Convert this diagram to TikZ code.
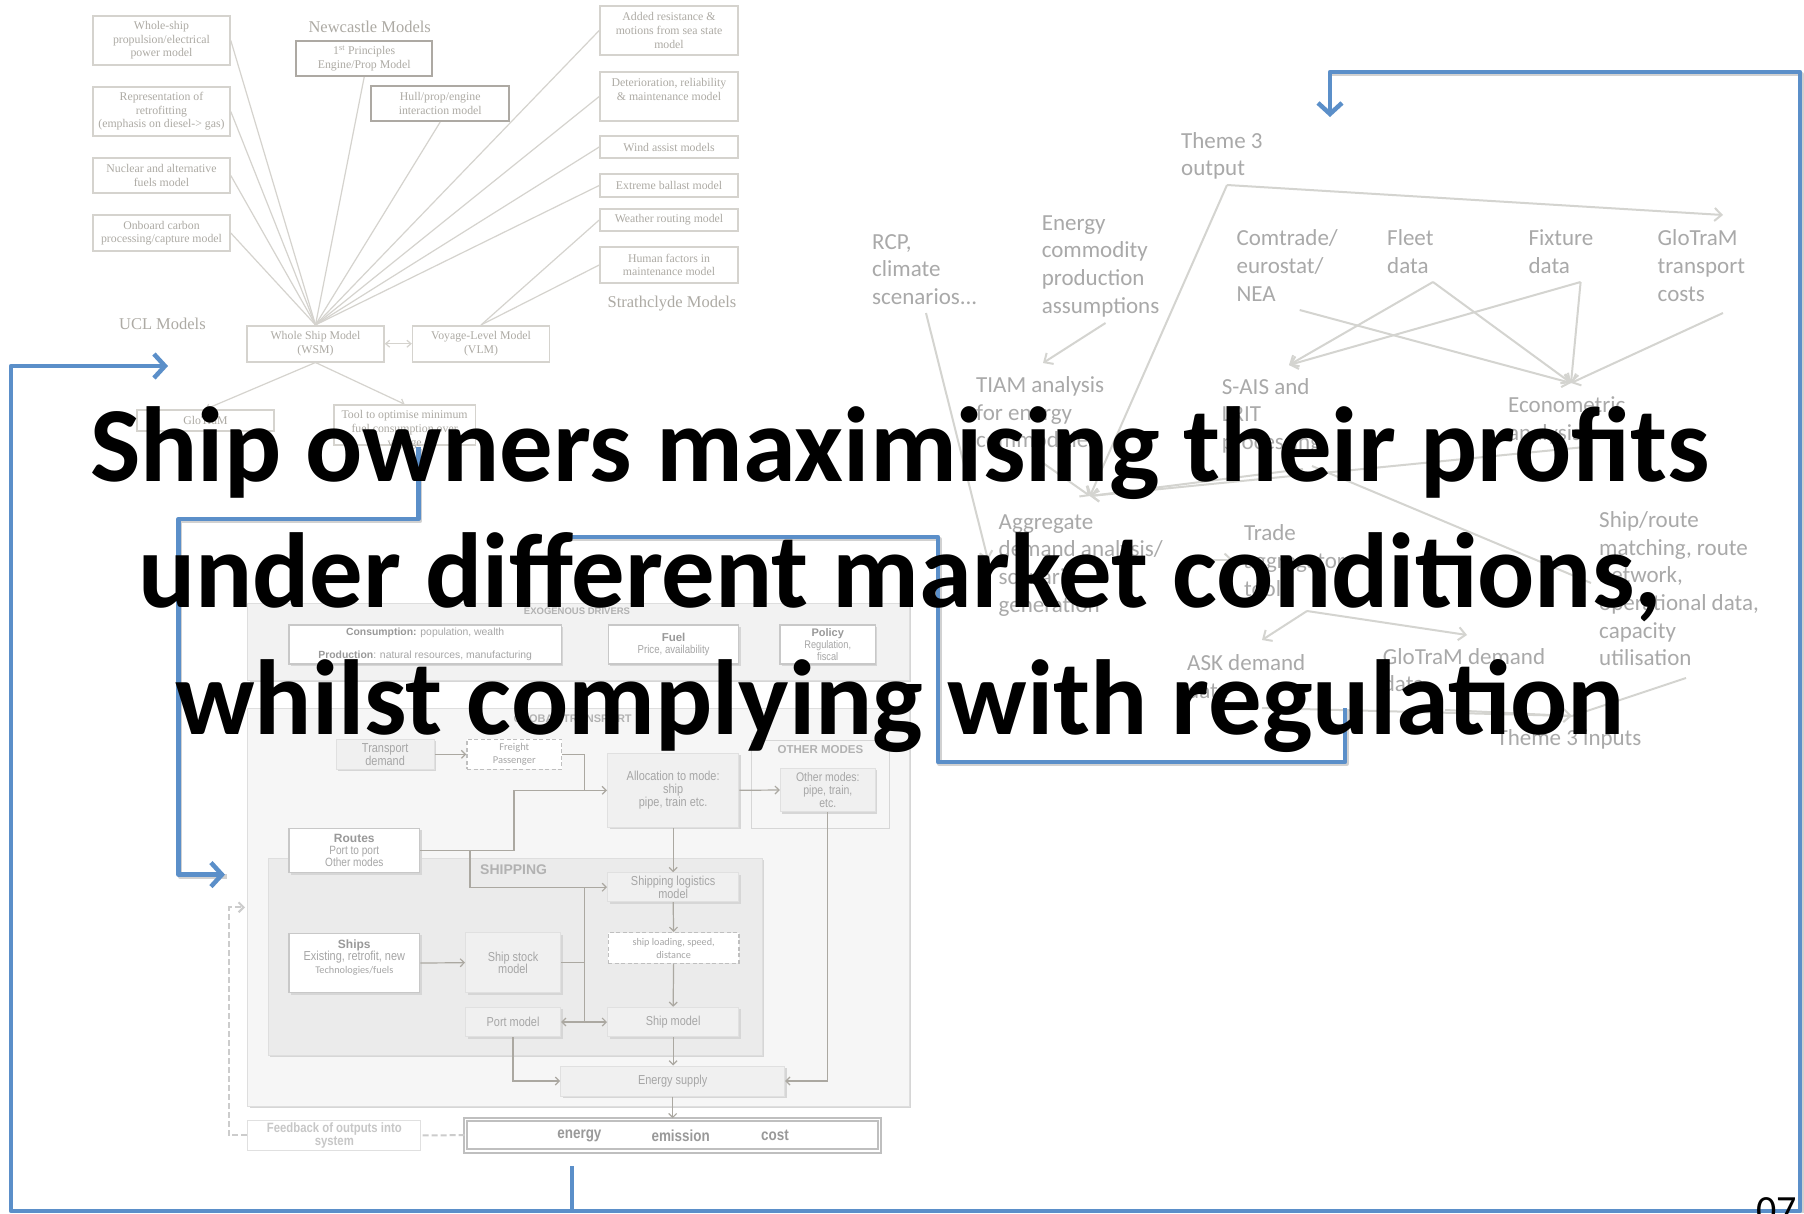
\documentclass[tikz,border=0pt]{standalone}
\usepackage{fontspec}
\setmainfont{Carlito}
\newfontfamily\serfont{Liberation Serif}
\newfontfamily\arialfont{Liberation Sans}
\newfontfamily\narrowfont[FakeStretch=0.84]{Liberation Sans}
\usetikzlibrary{arrows.meta,shadows}
\definecolor{ucltxt}{HTML}{ADAAA4}
\definecolor{uclline}{HTML}{D5D3CE}
\definecolor{ncline}{HTML}{ADA9A3}
\definecolor{trtxt}{HTML}{A9A9A9}
\definecolor{trline}{HTML}{D4D4D0}
\definecolor{bluec}{HTML}{5B8FC9}
\definecolor{btxt}{HTML}{A6A6A6}
\definecolor{bbold}{HTML}{999999}
\definecolor{bline}{HTML}{ABA8A1}
\definecolor{bborder}{HTML}{C8C8C8}
\tikzset{
  uclbox/.style={draw=uclline, line width=1.6pt, fill=white, inner sep=1pt, align=center, text=ucltxt, font=\serfont\fontsize{11.8}{13.6}\selectfont},
  ncbox/.style={uclbox, draw=ncline, line width=2pt},
  ucltitle/.style={text=ucltxt, inner sep=0pt, font=\serfont\fontsize{16.5}{19}\selectfont},
  uclconn/.style={draw=uclline, line width=1.2pt},
  ucltip/.style={uclconn, -{Straight Barb[length=4pt,width=7pt]}},
  uclboth/.style={uclconn, {Straight Barb[length=4pt,width=7pt]}-{Straight Barb[length=4pt,width=7pt]}},
  trlab/.style={text=trtxt, inner sep=0pt, anchor=base west, align=left, font=\fontsize{23}{27.7}\selectfont},
  trarrow/.style={draw=trline, line width=2pt, -{Straight Barb[length=7pt,width=13pt]}},
  trline/.style={draw=trline, line width=2pt},
  panel/.style={draw=black!13, line width=1pt, inner sep=0pt},
  shad/.style={drop shadow={shadow xshift=2pt, shadow yshift=-2pt, fill=black!16, opacity=1}},
  wbox/.style={draw=bborder, line width=1.3pt, fill=white, shad, inner sep=1pt, align=center, text=btxt, font=\narrowfont\fontsize{12}{12.4}\selectfont},
  gbox/.style={draw=black!12, line width=1pt, fill=black!6, shad, inner sep=1pt, align=center, text=btxt, font=\narrowfont\fontsize{13}{13.2}\selectfont},
  dbox/.style={draw=black!25, dashed, dash pattern=on 4pt off 2.5pt, line width=1.5pt, fill=white, inner sep=1pt, align=center, text=btxt, font=\fontsize{10.5}{12.8}\selectfont},
  plabel/.style={text=black!30, inner sep=0pt, font=\arialfont\bfseries\fontsize{#1}{#1}\selectfont},
  barrow/.style={draw=bline, line width=1.2pt, -{Straight Barb[length=4pt,width=8pt]}},
  bline/.style={draw=bline, line width=1.2pt},
  bdash/.style={draw=black!20, line width=2pt, dash pattern=on 6pt off 3pt},
  blueln/.style={draw=bluec, line width=4.5pt, line join=round},
  bluesh/.style={draw=black!18, line width=4.5pt, line join=round, transform canvas={shift={(1.5pt,-2pt)}}},
  bluetip/.style={-{Straight Barb[length=11pt,width=24pt]}},
}
\begin{document}
\begin{tikzpicture}[x=1pt,y=-1pt]
\useasboundingbox (0,0) rectangle (1804,1213);
\fill[white] (0,0) rectangle (1804,1213);

% ================= top-left: model collection =================
\node[ucltitle] (ncl) at (369.7,26.7) {Newcastle Models};
\node[ucltitle] (ucl) at (162.4,323.5) {UCL Models};
\node[ucltitle] (strath) at (672,304) {Strathclyde Models};

\node[uclbox, minimum width=137, minimum height=49] (wship) at (161.5,40.5) {Whole-ship\\propulsion/electrical\\power model};
\node[uclbox, minimum width=137, minimum height=49] (retro) at (161.5,111.5) {Representation of\\retrofitting\\(emphasis on diesel-> gas)};
\node[uclbox, minimum width=137, minimum height=35] (nucl) at (161.5,175.5) {Nuclear and alternative\\fuels model};
\node[uclbox, minimum width=137, minimum height=36] (onbd) at (161.5,233) {Onboard carbon\\processing/capture model};
\node[ncbox, minimum width=136.5, minimum height=35] (princ) at (364.2,58.5) {1\textsuperscript{st} Principles\\Engine/Prop Model};
\node[ncbox, minimum width=137.6, minimum height=35] (hull) at (440.2,103.5) {Hull/prop/engine\\interaction model};
\node[uclbox, minimum width=138, minimum height=49] (added) at (669,30.5) {Added resistance \&\\motions from sea state\\model};
\node[uclbox, minimum width=138, minimum height=49] (deter) at (669,96.5) {Deterioration, reliability\\\& maintenance model\\\mbox{}};
\node[uclbox, minimum width=138, minimum height=22] (wind) at (669,147) {Wind assist models};
\node[uclbox, minimum width=138, minimum height=23] (ballast) at (669,185.5) {Extreme ballast model};
\node[uclbox, minimum width=138, minimum height=22] (weather) at (669,220) {Weather routing model};
\node[uclbox, minimum width=138, minimum height=36] (human) at (669,265) {Human factors in\\maintenance model};
\node[uclbox, minimum width=137, minimum height=36] (wsm) at (315.5,343.7) {Whole Ship Model\\(WSM)};
\node[uclbox, minimum width=137, minimum height=36] (vlm) at (481.1,343.7) {Voyage-Level Model\\(VLM)};
\node[uclbox, minimum width=137, minimum height=21] (glo) at (205.5,420.5) {GloTraM};
\node[uclbox, minimum width=141.8, minimum height=40] (tool) at (404.6,425) {};
\node[text=ucltxt, inner sep=0pt, align=center, font=\serfont\fontsize{11.8}{14}\selectfont] (tooltxt) at (404.6,429.5) {Tool to optimise minimum\\fuel consumption over\\voyage};

\foreach \s in {wship,retro,nucl,onbd} \draw[uclconn] (\s.east) -- (wsm.north);
\foreach \s in {princ,hull} \draw[uclconn] (\s.south) -- (wsm.north);
\foreach \s in {added,deter,wind,ballast} \draw[uclconn] (\s.west) -- (wsm.north);
\foreach \s in {weather,human} \draw[uclconn] (\s.west) -- (vlm.north);
\draw[uclboth] (wsm.east) -- (vlm.west);
\draw[ucltip] (wsm.south) -- (glo.north);
\draw[ucltip] (wsm.south) -- (tool.north);

% ================= top-right: theme 3 flow (base = last line) =================
\node[trlab] (t3out) at (1181,175.7) {Theme 3\\output};
\node[trlab] (energy) at (1041.6,313.1) {Energy\\commodity\\production\\assumptions};
\node[trlab] (rcp) at (872,304.4) {RCP,\\climate\\scenarios...};
\node[trlab] (comtrade) at (1236.4,301.1) {Comtrade/\\eurostat/\\NEA};
\node[trlab] (fleet) at (1387,273.4) {Fleet\\data};
\node[trlab] (fixture) at (1528.4,273.4) {Fixture\\data};
\node[trlab] (gtc) at (1657.5,301.1) {GloTraM\\transport\\costs};
\node[trlab] (tiam) at (976,447.8) {TIAM analysis\\for energy\\commodities};
\node[trlab] (sais) at (1221.7,449.4) {S-AIS and\\LRIT\\processing};
\node[trlab] (econ) at (1508,440.1) {Econometric\\analysis};
\node[trlab] (aggr) at (998.5,612.1) {Aggregate\\demand analysis/\\scenario\\generation};
\node[trlab] (trade) at (1243.8,596.1) {Trade\\aggregator\\tool};
\node[trlab] (shiproute) at (1599,665.9) {Ship/route\\matching, route\\network,\\operational data,\\capacity\\utilisation};
\node[trlab] (ask) at (1187,698.4) {ASK demand\\data};
\node[trlab] (gdd) at (1382.7,691.7) {GloTraM demand\\data};
\node[trlab] (t3in) at (1496.4,745.7) {Theme 3 inputs};

\coordinate (t3oS) at (1227,185);
\coordinate (gtcT) at (1723,215);
\coordinate (aggT) at (1090,496);
\coordinate (engS) at (1105.5,323);
\coordinate (tiamT) at (1043,363);
\coordinate (tiamS) at (1043,463);
\coordinate (rcpS) at (926,313);
\coordinate (rcpT) at (988,560);
\coordinate (comS) at (1299.7,310);
\coordinate (fleetS) at (1433,282);
\coordinate (fixS) at (1580.6,282);
\coordinate (gtcS) at (1723,313);
\coordinate (econT) at (1571,383);
\coordinate (saisT) at (1289,365);
\coordinate (econS) at (1585,447);
\coordinate (saisS) at (1303,469);
\coordinate (saisS2) at (1312,466);
\coordinate (srT) at (1591,583);
\coordinate (aggS) at (1186,560);
\coordinate (tradeT) at (1233,560);
\coordinate (tradeS) at (1307,611);
\coordinate (askT) at (1262,640);
\coordinate (gddT) at (1467,635);
\coordinate (srS) at (1686,678);
\coordinate (askS) at (1262,708);
\coordinate (gddS) at (1445,710);
\coordinate (t3inT) at (1572,716);

\draw[trarrow] (t3oS) -- (gtcT);
\draw[trarrow] (t3oS) -- (aggT);
\draw[trarrow] (engS) -- (tiamT);
\draw[trarrow] (tiamS) -- (aggT);
\draw[trarrow] (rcpS) -- (rcpT);
\draw[trarrow] (comS) -- (econT);
\draw[trarrow] (fleetS) -- (econT);
\draw[trarrow] (fixS) -- (econT);
\draw[trarrow] (gtcS) -- (econT);
\draw[trarrow] (fleetS) -- (saisT);
\draw[trarrow] (fixS) -- (saisT);
\draw[trarrow] (econS) -- (aggT);
\draw[trarrow] (saisS) -- (aggT);
\draw[trline] (saisS2) -- (srT);
\draw[trarrow] (aggS) -- (tradeT);
\draw[trarrow] (tradeS) -- (askT);
\draw[trarrow] (tradeS) -- (gddT);
\draw[trline] (srS) -- (t3inT);
\draw[trline] (askS) -- (t3inT);
\draw[trarrow] (gddS) -- (t3inT);

% ================= bottom-left: transport model =================
\node[panel, fill=black!5, shad, minimum width=661.3, minimum height=77] (exo) at (578.35,641.5) {};
\node[plabel=9.5] (exolab) at (577,611.7) {EXOGENOUS DRIVERS};
\node[wbox, minimum width=272.5, minimum height=39, font=\arialfont\fontsize{10.4}{23.3}\selectfont] (cons) at (425.2,644.5) {\textcolor{bbold}{\bfseries Consumption:} population, wealth\\\textcolor{bbold}{\bfseries Production}: natural resources, manufacturing};
\node[wbox, minimum width=130.4, minimum height=39, font=\narrowfont\fontsize{11.5}{12}\selectfont] (fuel) at (673.6,644.5) {\textcolor{bbold}{\arialfont\bfseries Fuel}\\Price, availability};
\node[wbox, minimum width=95.4, minimum height=39, font=\narrowfont\fontsize{11}{12.2}\selectfont] (policy) at (827.7,644.5) {\textcolor{bbold}{\arialfont\bfseries Policy}\\Regulation,\\fiscal};

\node[panel, fill=black!3.5, shad, minimum width=661.3, minimum height=398] (glob) at (578.35,907) {};
\node[plabel=11] (globlab) at (572.7,718.3) {GLOBAL TRANSPORT};
\node[panel, fill=black!3.5, draw=black!16, minimum width=138.4, minimum height=88.3] (omp) at (820.4,784.15) {};
\node[plabel=11.5] (omplab) at (820.4,749.3) {OTHER MODES};
\node[panel, fill=black!8, shad, minimum width=494.2, minimum height=196.7] (shipp) at (515.3,956.65) {};
\node[plabel=14, anchor=west] (shiplab) at (480,870) {SHIPPING};

\node[gbox, minimum width=98.3, minimum height=30, font=\narrowfont\fontsize{13}{12.7}\selectfont] (tdem) at (385.15,754.3) {Transport\\demand};
\node[dbox, minimum width=94.5, minimum height=30] (freight) at (514.25,754.3) {Freight\\Passenger};
\node[gbox, minimum width=131.3, minimum height=74] (alloc) at (673.15,790.3) {Allocation to mode:\\ship\\pipe, train etc.};
\node[gbox, minimum width=95.1, minimum height=43.4, font=\narrowfont\fontsize{12.5}{13}\selectfont] (omodes) at (827.85,790) {Other modes:\\pipe, train,\\etc.};
\node[wbox, minimum width=130.6, minimum height=44.4] (routes) at (354.3,850.5) {\textcolor{bbold}{\arialfont\bfseries Routes}\\Port to port\\Other modes};
\node[gbox, minimum width=131.3, minimum height=29] (slog) at (673.15,887.2) {Shipping logistics\\model};
\node[dbox, minimum width=130.4, minimum height=30.6, font=\fontsize{10.2}{13}\selectfont] (sload) at (673.6,948) {ship loading, speed,\\distance};
\node[wbox, minimum width=130.6, minimum height=59.4] (ships) at (354.3,963) {};
\node[text=btxt, inner sep=0pt, align=center, font=\narrowfont\fontsize{13}{12.8}\selectfont] (shipstxt) at (354.3,957.5) {\textcolor{bbold}{\arialfont\bfseries\fontsize{12}{12}\selectfont Ships}\\Existing, retrofit, new\\{\normalfont\fontsize{10.3}{12}\selectfont Technologies/fuels}};
\node[gbox, minimum width=95.1, minimum height=60, font=\narrowfont\fontsize{13}{12.6}\selectfont] (sstock) at (513.05,962.7) {Ship stock\\model};
\node[gbox, minimum width=95.1, minimum height=29.4] (port) at (513.05,1022) {Port model};
\node[gbox, minimum width=131.3, minimum height=29.4] (shipm) at (673.15,1022) {Ship model};
\node[gbox, minimum width=224.1, minimum height=30] (esup) at (672.65,1081) {Energy supply};
\node[wbox, draw=black!25, line width=2pt, double=white, double distance=1.2pt, minimum width=414.3, minimum height=31.7] (results) at (672.65,1135.15) {};
\node[text=black!40, inner sep=0pt, font=\narrowfont\bfseries\fontsize{16}{16}\selectfont] (renergy) at (579.4,1135.7) {energy};
\node[text=black!40, inner sep=0pt, font=\narrowfont\bfseries\fontsize{16}{16}\selectfont] (remis) at (680.7,1135.7) {emission};
\node[text=black!40, inner sep=0pt, font=\narrowfont\bfseries\fontsize{16}{16}\selectfont] (rcost) at (775,1135.7) {cost};
\node[draw=black!12, line width=1pt, fill=white, inner sep=0pt, align=center, text=black!22, minimum width=173.2, minimum height=29.3, font=\narrowfont\bfseries\fontsize{13.5}{13}\selectfont] (feedback) at (334.3,1135.35) {Feedback of outputs into\\system};

\draw[barrow] (tdem.east) -- (freight.west);
\coordinate (jA) at (584.7,790.3);
\draw[barrow] (freight.east) -| (jA) -- (alloc.west);
\coordinate (jR) at (514,790.3);
\draw[bline] (routes.east) -| (jR) -- (jA);
\coordinate (jS) at (470,850.5);
\draw[barrow] (jS) |- (slog.west);
\draw[barrow] (alloc.east) -- (omodes.west);
\draw[barrow] (alloc.south) -- (slog.north);
\draw[barrow] (omodes.south) |- (esup.east);
\draw[barrow] (slog.south) -- (sload.north);
\draw[barrow] (sload.south) -- (shipm.north);
\draw[barrow] (ships.east) -- (sstock.west);
\coordinate (jT) at (584.7,887.2);
\coordinate (jB) at (584.7,1022);
\draw[bline] (sstock.east) -- (sstock.east -| jT);
\draw[bline] (jT) -- (jB);
\draw[barrow] (jB) -- (port.east);
\draw[barrow] (jB) -- (shipm.west);
\draw[barrow] (shipm.south) -- (shipm.south |- esup.north);
\draw[barrow] (port.south) |- (esup.west);
\draw[barrow] (esup.south) -- (esup.south |- results.north);
\coordinate (fbC) at (229,1135.35);
\coordinate (fbT) at (245,907.3);
\draw[bdash] (results.west) -- (feedback.east);
\draw[bdash, -{Straight Barb[length=5pt,width=10pt]}] (feedback.west) -- (fbC) |- (fbT);

% ================= blue feedback loops =================
\coordinate (bA) at (572,1166);
\coordinate (bB) at (572,1211);
\coordinate (bC) at (11,1211);
\coordinate (bD) at (11,366);
\coordinate (bE) at (168,366);
\coordinate (bF) at (1800,1211);
\coordinate (bG) at (1800,72);
\coordinate (bH) at (1330,72);
\coordinate (bI) at (1330,117);
\coordinate (cA) at (418.6,447);
\coordinate (cB) at (418.6,519);
\coordinate (cC) at (178.6,519);
\coordinate (cD) at (178.6,874.6);
\coordinate (cE) at (225,874.6);
\coordinate (dA) at (558,537);
\coordinate (dB) at (938,537);
\coordinate (dC) at (938,762);
\coordinate (dD) at (1345,762);
\coordinate (dE) at (1345,708);

\draw[bluesh] (cA) -- (cB) -- (cC) -- (cD) -- (cE);
\draw[bluesh] (dA) -- (dB) -- (dC) -- (dD) -- (dE);
\draw[bluesh] (bH) -- (bG) -- (bF);
\draw[blueln, bluetip] (bA) -- (bB) -- (bC) -- (bD) -- (bE);
\draw[blueln, bluetip] (bB) -- (bF) -- (bG) -- (bH) -- (bI);
\draw[blueln, bluetip] (cA) -- (cB) -- (cC) -- (cD) -- (cE);
\draw[blueln] (dA) -- (dB) -- (dC) -- (dD) -- (dE);

% ================= title (base = last line) =================
\node[anchor=base, align=center, inner sep=0pt, font=\bfseries\fontsize{106.7}{126.5}\selectfont] (title) at (900,734) {Ship owners maximising their profits\\under different market conditions,\\whilst complying with regulation};
\node[anchor=base west, inner sep=0pt, font=\fontsize{40}{40}\selectfont] (pgnum) at (1756,1223) {07};
\end{tikzpicture}
\end{document}
